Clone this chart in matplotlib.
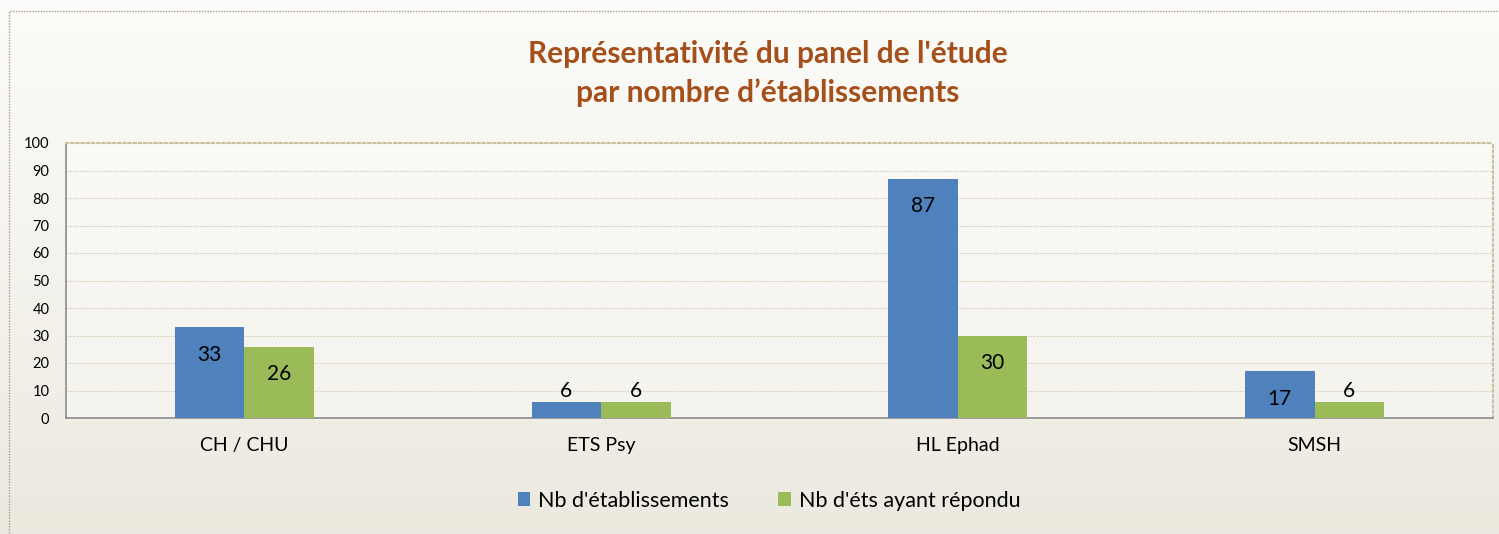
import numpy as np
import matplotlib.pyplot as plt
from matplotlib.patches import Rectangle

plt.rcParams['font.family'] = ['Lato', 'DejaVu Sans']

categories = ['CH / CHU', 'ETS Psy', 'HL Ephad', 'SMSH']
nb_etab = [33, 6, 87, 17]
nb_repondu = [26, 6, 30, 6]
series_names = ["Nb d'établissements", "Nb d'éts ayant répondu"]
title = "Représentativité du panel de l'étude\npar nombre d\u2019établissements"

blue = '#4F81BD'
green = '#9BBB59'

fig = plt.figure(figsize=(14.99, 5.34), dpi=100)

# background gradient
bg = fig.add_axes([0, 0, 1, 1], zorder=-10)
grad = np.linspace(0, 1, 256)[:, None]
top = np.array([0.988, 0.988, 0.980])
bot = np.array([0.925, 0.914, 0.875])
img = top[None, None, :] * (1 - grad[..., None]) + bot[None, None, :] * grad[..., None]
bg.imshow(img, aspect='auto', extent=[0, 1, 0, 1])
bg.add_patch(Rectangle((0.006, -0.01), 1.0, 0.99, fill=False, ec='#B09A90',
                       lw=1, ls=(0, (1, 1))))
bg.set_xlim(0, 1)
bg.set_ylim(0, 1)
bg.axis('off')

ax = fig.add_axes([66 / 1499, 1 - 418 / 534, (1493 - 66) / 1499, (418 - 143) / 534])
ax.set_facecolor((1, 1, 1, 0.35))

x = np.arange(len(categories))
w = 0.195
b1 = ax.bar(x - w / 2, nb_etab, w, color=blue, label=series_names[0], zorder=3)
b2 = ax.bar(x + w / 2, nb_repondu, w, color=green, label=series_names[1], zorder=3)

for bars, vals in [(b1, nb_etab), (b2, nb_repondu)]:
    for rect, v in zip(bars, vals):
        cx = rect.get_x() + rect.get_width() / 2
        if v > 12:
            ax.text(cx, v - 10, str(v), ha='center', va='center', fontsize=15, color='black', zorder=4)
        else:
            ax.text(cx, v + 3.8, str(v), ha='center', va='center', fontsize=15, color='black', zorder=4)

ax.set_xlim(-0.5, len(categories) - 0.5)
ax.set_ylim(0, 100)
ax.set_yticks(range(0, 101, 10))
ax.tick_params(axis='y', length=0, labelsize=10.5, pad=12)
ax.tick_params(axis='x', length=0, labelsize=14, pad=14)
ax.set_xticks(x)
ax.set_xticklabels(categories)
ax.yaxis.grid(True, color='#D8D5C0', lw=0.8, ls=(0, (2, 1)), zorder=0)
ax.set_axisbelow(True)

for s in ['top', 'right']:
    ax.spines[s].set_color('#C8C29A')
    ax.spines[s].set_linestyle((0, (1, 1.5)))
    ax.spines[s].set_linewidth(1.5)
for s in ['left', 'bottom']:
    ax.spines[s].set_color('#8C8C8C')
    ax.spines[s].set_linewidth(1.2)

fig.text(0.512, 0.862, title, ha='center', va='center', fontsize=21.5, fontweight='bold',
         color='#A5501A', linespacing=1.45)

fig.legend(handles=[b1, b2], loc='center', bbox_to_anchor=(0.513, 0.062), ncol=2,
           frameon=False, fontsize=15.5, handlelength=0.6, handleheight=0.6,
           handletextpad=0.35, columnspacing=2.3)

fig.savefig('out.png', dpi=100)
